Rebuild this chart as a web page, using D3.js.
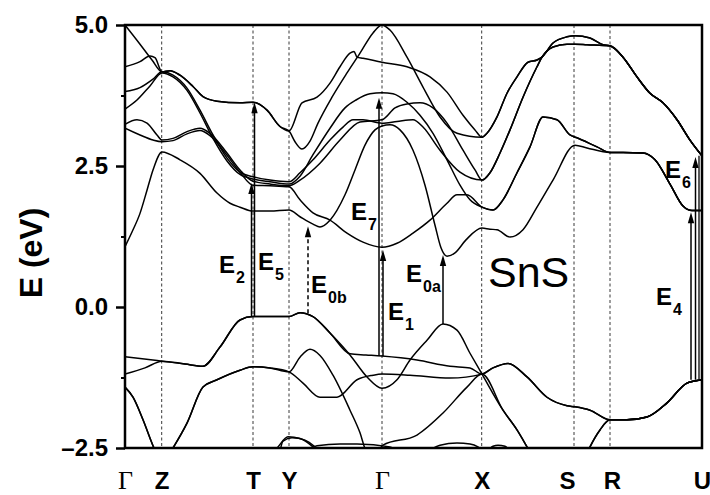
<!DOCTYPE html>
<html>
<head>
<meta charset="utf-8">
<script src="https://cdn.jsdelivr.net/npm/d3@7"></script>
<style>
  body { margin: 0; background: #fff; }
  svg { display: block; }
</style>
</head>
<body>
<svg id="chart" width="710" height="495"></svg>
<script>
// ---- k-path: high-symmetry points (cumulative path length) ----
const kLabels = ["Γ", "Z", "T", "Y", "Γ", "X", "S", "R", "U"];
const kPoints = [0, 0.367, 1.28, 1.64, 2.57, 3.567, 4.49, 4.85, 5.77];
const kLabelShift = [0, 0, 0, 0, 0, 0, -7, 2, 0];

// ---- energy axis ticks (eV) ----
const yTicks = [5.0, 2.5, 0.0, -2.5];
const yMinorTicks = [3.75, 1.25, -1.25];

// ---- shared band segments along R-U ----
const ruUpper = [[4.98,4.43],[5.12,4.08],[5.25,3.79],[5.38,3.62],[5.52,3.32],[5.65,2.96],[5.77,2.68]];
const ruLower = [[4.98,2.74],[5.18,2.73],[5.30,2.61],[5.45,2.18],[5.58,1.79],[5.67,1.71],[5.77,1.71]];
const ruValence = [[5.02,-2.00],[5.22,-1.95],[5.42,-1.70],[5.62,-1.35],[5.77,-1.29]];

// ---- valence bands [k, E] ----
const vb1 = [[0.00,-0.88],[0.37,-0.96],[0.60,-1.01],[0.78,-1.05],[0.95,-0.71],[1.15,-0.23],[1.28,-0.17],
  [1.64,-0.17],[1.75,-0.10],[1.88,-0.17],[2.05,-0.46],[2.25,-0.85],[2.42,-1.24],[2.57,-1.44],[2.72,-1.29],
  [2.85,-0.94],[3.02,-0.59],[3.18,-0.30],[3.32,-0.41],[3.45,-0.82],[3.57,-1.19],[3.78,-1.83],[3.92,-2.18],
  [4.02,-2.48],[4.15,-2.89],[4.35,-3.24],[4.55,-2.89],[4.65,-2.48],[4.75,-2.18],[4.85,-2.00]].concat(ruValence);
const vb2 = [[0.00,-1.19],[0.20,-1.08],[0.37,-0.96],[0.60,-1.01],[0.78,-1.05],[0.95,-0.71],[1.15,-0.23],
  [1.28,-0.17],[1.64,-0.17],[1.75,-0.10],[1.88,-0.17],[2.05,-0.46],[2.25,-0.83],[2.41,-0.85],[2.57,-0.87],
  [2.92,-0.94],[3.25,-1.05],[3.45,-1.08],[3.57,-1.19],[3.68,-1.08],[3.83,-1.00],[4.02,-1.24],[4.22,-1.60],
  [4.42,-1.75],[4.50,-1.77],[4.65,-1.83],[4.85,-2.00]].concat(ruValence);
const vb3Head = [[0.00,-1.42],[0.08,-1.60],[0.18,-2.00],[0.28,-2.46],[0.37,-2.80],[0.48,-2.50],[0.62,-2.06],
  [0.78,-1.42],[0.92,-1.29],[1.15,-1.12],[1.28,-1.06],[1.45,-1.08],[1.64,-1.15]];
const vb3 = vb3Head.concat([[1.78,-1.35],[1.95,-1.60],[2.12,-1.60],[2.32,-1.29],[2.48,-1.21],[2.57,-1.19],
  [2.85,-1.21],[3.25,-1.26],[3.57,-1.19]]).concat(vb2.filter(p => p[0] > 3.57));
const vb4 = vb3Head.concat([[1.75,-0.89],[1.85,-0.75],[1.95,-0.86],[2.08,-1.21],[2.25,-1.83],[2.35,-2.23],
  [2.41,-2.54],[2.50,-2.62],[2.58,-2.45],[2.92,-2.27],[3.18,-1.88],[3.42,-1.42],[3.57,-1.19]])
  .concat(vb1.filter(p => p[0] > 3.57));
const vb5 = [[1.37,-2.71],[1.52,-2.50],[1.63,-2.30],[1.75,-2.33],[1.88,-2.48],[2.00,-2.71]];
const vb6 = [[1.55,-2.55],[1.58,-2.38],[1.67,-2.32],[1.80,-2.36],[1.90,-2.48],[1.98,-2.62]];
const vb7 = [[1.75,-2.71],[1.92,-2.46],[2.15,-2.43],[2.32,-2.43],[2.65,-2.48],[2.85,-2.62],[3.00,-2.57],
  [3.15,-2.45],[3.32,-2.41],[3.45,-2.43],[3.53,-2.48],[3.60,-2.57],[3.68,-2.47],[3.73,-2.45],[3.80,-2.47],[3.87,-2.62]];

// ---- conduction bands [k, E] ----
const cb1 = [[0.00,5.00],[0.15,4.66],[0.27,4.38],[0.37,4.17],[0.45,4.19],[0.55,4.11],[0.68,3.91],[0.78,3.73],
  [0.92,3.65],[1.15,3.62],[1.28,3.63],[1.42,3.49],[1.55,3.20],[1.64,3.12],[1.77,3.62],[1.92,3.72],[2.05,3.97],
  [2.15,4.26],[2.25,4.50],[2.29,4.53],[2.32,4.43],[2.38,4.41],[2.57,4.34],[2.82,4.26],[3.05,4.08],[3.22,3.81],
  [3.38,3.40],[3.50,3.14],[3.57,3.01],[3.62,3.08],[3.72,3.37],[3.82,3.79],[3.92,4.08],[4.03,4.34],[4.12,4.38],
  [4.17,4.43],[4.28,4.68],[4.42,4.79],[4.50,4.81],[4.65,4.77],[4.78,4.65],[4.85,4.63]].concat(ruUpper);
const cb2 = [[0.00,4.26],[0.15,4.35],[0.25,4.45],[0.30,4.42],[0.37,4.17],[0.45,4.19],[0.55,4.11],[0.68,3.91],
  [0.78,3.73],[0.92,3.65],[1.15,3.62],[1.28,3.63],[1.42,3.49],[1.55,3.20],[1.64,3.12],[1.70,2.93],[1.77,2.80],
  [1.85,2.94],[1.93,3.26],[2.07,3.72],[2.22,4.15],[2.35,4.50],[2.48,4.86],[2.57,5.00],[2.65,4.91],[2.82,4.43],
  [2.98,3.90],[3.15,3.37],[3.32,3.08],[3.57,3.01]].concat(cb1.filter(p => p[0] > 3.57));
const cb3 = [[0.00,3.82],[0.15,3.89],[0.28,4.04],[0.37,4.17],[0.48,4.11],[0.62,3.88],[0.75,3.49],[0.88,3.05],
  [1.02,2.64],[1.15,2.39],[1.28,2.31],[1.45,2.25],[1.64,2.22],[1.75,2.38],[1.88,2.61],[2.05,2.96],[2.18,3.19],
  [2.28,3.32],[2.38,3.32],[2.57,3.26],[2.72,3.29],[2.88,3.32],[2.98,3.19],[3.15,2.78],[3.35,2.39],[3.57,2.25],
  [3.65,2.38],[3.75,2.73],[3.85,3.14],[3.98,3.72],[4.12,4.26],[4.17,4.43],[4.28,4.61],[4.42,4.66],[4.50,4.66],
  [4.62,4.65],[4.85,4.63]].concat(ruUpper);
const cb4 = [[0.00,3.51],[0.12,3.67],[0.25,3.92],[0.37,4.15],[0.48,4.08],[0.62,3.84],[0.75,3.44],[0.88,2.99],
  [1.02,2.59],[1.15,2.35],[1.28,2.27],[1.45,2.22],[1.64,2.18],[1.75,2.32],[1.88,2.70],[2.05,3.17],[2.20,3.53],
  [2.31,3.67],[2.45,3.78],[2.57,3.80],[2.68,3.78],[2.82,3.63],[2.95,3.40],[3.08,3.08],[3.22,2.61],[3.35,2.16],
  [3.45,1.90],[3.57,1.77],[3.68,1.72],[3.78,1.90],[3.92,2.38],[4.05,2.84],[4.18,3.37],[4.32,3.32],[4.45,3.05],
  [4.52,3.00],[4.72,2.84],[4.85,2.74]].concat(ruLower);
const cb5 = [[0.00,3.24],[0.12,3.32],[0.22,3.26],[0.32,3.05],[0.37,2.96],[0.48,2.99],[0.62,3.11],[0.75,3.17],
  [0.85,3.08],[1.02,2.73],[1.15,2.43],[1.28,2.23],[1.45,2.18],[1.64,2.15],[1.75,2.25],[1.95,2.55],[2.15,2.96],
  [2.35,3.28],[2.57,3.32],[2.70,3.53],[2.82,3.60],[2.95,3.62],[3.08,3.53],[3.22,3.26],[3.38,2.78],[3.50,2.43],
  [3.57,2.25]].concat(cb3.filter(p => p[0] > 3.57));
const cb6 = [[0.00,3.17],[0.15,3.05],[0.28,2.96],[0.37,2.93],[0.48,2.95],[0.62,3.07],[0.75,3.13],[0.85,3.04],
  [1.02,2.69],[1.15,2.39],[1.28,2.16],[1.45,2.15],[1.64,2.13],[1.75,1.90],[1.88,1.67],[2.05,1.54],[2.22,1.31],
  [2.38,1.15],[2.57,1.06],[2.72,1.13],[2.88,1.31],[3.05,1.54],[3.22,1.84],[3.32,1.99],[3.42,1.99],[3.57,1.77]]
  .concat(cb4.filter(p => p[0] > 3.57));
const cb7 = [[0.00,1.07],[0.07,1.33],[0.15,1.66],[0.22,2.07],[0.28,2.43],[0.37,2.75],[0.55,2.61],[0.75,2.37],
  [0.92,2.02],[1.05,1.84],[1.15,1.77],[1.28,1.70],[1.45,1.70],[1.64,1.72],[1.75,1.60],[1.88,1.47],[1.95,1.42],
  [2.05,1.54],[2.20,1.99],[2.30,2.43],[2.40,2.87],[2.50,3.14],[2.57,3.21],[2.65,3.23],[2.75,3.14],[2.88,2.78],
  [3.00,2.16],[3.10,1.45],[3.16,1.05],[3.22,0.90],[3.30,0.96],[3.41,1.19],[3.57,1.40],[3.65,1.38],[3.72,1.37],
  [3.85,1.24],[3.98,1.37],[4.12,1.77],[4.28,2.25],[4.50,2.87],[4.62,2.82],[4.85,2.74]].concat(ruLower);

const bands = [vb1, vb2, vb3, vb4, vb5, vb6, vb7, cb1, cb2, cb3, cb4, cb5, cb6, cb7];

// ---- optical transitions: k position, start and end energies (eV) ----
const transitionNames = ["2", "5", "0b", "7", "1", "0a", "4", "6"];
const transitionK     = [1.265, 1.295, 1.83, 2.54, 2.58, 3.18, 5.66, 5.705];
const transitionFrom  = [-0.17, -0.17, -0.11, -0.87, -0.87, -0.30, -1.29, -1.29];
const transitionTo    = [2.20, 3.63, 1.43, 3.71, 1.01, 0.92, 1.68, 2.66];
const transitionDash  = [false, false, true, false, false, false, false, false];
// label anchors [k, E] for each transition
const labelK = [0.94, 1.33, 1.86, 2.26, 2.63, 2.81, 5.31, 5.40];
const labelE = [0.60, 0.66, 0.25, 1.54, -0.23, 0.45, 0.04, 2.29];
// companion shaft beside E6 at the U end, from the valence to the upper band
const sideShaft = { k: 5.74, from: -1.29, to: 2.68 };
const compoundName = "SnS";
const compoundAt = [3.63, 0.36];

// ---- layout ----
const svg = d3.select("#chart");
const x = d3.scaleLinear().domain([0, 5.77]).range([125, 702]);
const y = d3.scaleLinear().domain([-2.5, 5]).range([448, 25]);
const SANS = "'Liberation Sans', Arial, Helvetica, sans-serif";
const SERIF = "'Liberation Serif', 'Times New Roman', serif";

svg.append("defs").append("clipPath").attr("id", "plot-clip")
  .append("rect").attr("x", 125).attr("y", 25).attr("width", 577).attr("height", 423);

// dashed guides at interior high-symmetry points
svg.append("g").selectAll("line")
  .data(kPoints.slice(1, -1))
  .join("line")
  .attr("x1", d => x(d)).attr("x2", d => x(d))
  .attr("y1", y(5)).attr("y2", y(-2.5))
  .attr("stroke", "#222").attr("stroke-width", 0.9)
  .attr("stroke-dasharray", "3,2.5");

// bands
const line = d3.line().x(d => x(d[0])).y(d => y(d[1])).curve(d3.curveMonotoneX);
svg.append("g").attr("clip-path", "url(#plot-clip)")
  .selectAll("path")
  .data(bands)
  .join("path")
  .attr("d", line)
  .attr("fill", "none")
  .attr("stroke", "#000")
  .attr("stroke-width", 1.5)
  .attr("stroke-linejoin", "round");

// transitions (arrows)
const arrows = svg.append("g");
transitionK.forEach((k, i) => {
  const xp = x(k), y0 = y(transitionFrom[i]), y1 = y(transitionTo[i]);
  arrows.append("line")
    .attr("x1", xp).attr("x2", xp).attr("y1", y0).attr("y2", y1 + 6)
    .attr("stroke", "#000").attr("stroke-width", 1.5)
    .attr("stroke-dasharray", transitionDash[i] ? "4,3" : null);
  arrows.append("path")
    .attr("d", `M${xp},${y1} L${xp - 3.2},${y1 + 11} L${xp + 3.2},${y1 + 11} Z`)
    .attr("fill", "#000");
});
arrows.append("line")
  .attr("x1", x(sideShaft.k)).attr("x2", x(sideShaft.k))
  .attr("y1", y(sideShaft.from)).attr("y2", y(sideShaft.to))
  .attr("stroke", "#000").attr("stroke-width", 1.3);

// transition labels
const labels = svg.append("g").attr("font-family", SANS).attr("font-weight", "bold").attr("fill", "#000");
transitionNames.forEach((sub, i) => {
  const t = labels.append("text")
    .attr("x", x(labelK[i])).attr("y", y(labelE[i]))
    .attr("font-size", 24);
  t.append("tspan").text("E");
  t.append("tspan").attr("dy", 10).attr("dx", 1).attr("font-size", 16).text(sub);
});

svg.append("text")
  .attr("x", x(compoundAt[0])).attr("y", y(compoundAt[1]))
  .attr("font-family", SANS).attr("font-size", 43).attr("fill", "#000")
  .text(compoundName);

// frame
svg.append("rect")
  .attr("x", 125).attr("y", 25).attr("width", 577).attr("height", 423)
  .attr("fill", "none").attr("stroke", "#000").attr("stroke-width", 2.5);

// y axis
const yAxis = svg.append("g").attr("transform", "translate(125,0)")
  .call(d3.axisLeft(y).tickValues(yTicks).tickSize(9).tickPadding(8)
    .tickFormat(d => d < 0 ? "–" + d3.format(".1f")(-d) : d3.format(".1f")(d)));
yAxis.select(".domain").remove();
yAxis.selectAll("line").attr("stroke", "#000").attr("stroke-width", 2.5);
yAxis.selectAll("text").attr("font-family", SANS).attr("font-weight", "bold")
  .attr("font-size", 24).attr("fill", "#000");

const yMinor = svg.append("g").attr("transform", "translate(125,0)")
  .call(d3.axisLeft(y).tickValues(yMinorTicks).tickSize(4).tickFormat(""));
yMinor.select(".domain").remove();
yMinor.selectAll("line").attr("stroke", "#000").attr("stroke-width", 2);

// k-path labels
const xAxis = svg.append("g").attr("transform", "translate(0,448)")
  .call(d3.axisBottom(x).tickValues(kPoints).tickSize(0).tickPadding(24)
    .tickFormat((d, i) => kLabels[i]));
xAxis.select(".domain").remove();
xAxis.selectAll("text")
  .attr("dx", (d, i) => kLabelShift[i])
  .attr("fill", "#000")
  .attr("font-family", (d, i) => kLabels[i] === "Γ" ? SERIF : SANS)
  .attr("font-weight", (d, i) => kLabels[i] === "Γ" ? "normal" : "bold")
  .attr("font-size", (d, i) => kLabels[i] === "Γ" ? 26 : 24)
  .attr("dy", (d, i) => kLabels[i] === "Γ" ? "0.64em" : "0.71em");

// axis title
svg.append("text")
  .attr("transform", "translate(42,253) rotate(-90)")
  .attr("text-anchor", "middle")
  .attr("font-family", SANS).attr("font-weight", "bold").attr("font-size", 32)
  .attr("fill", "#000")
  .text("E (eV)");
</script>
</body>
</html>
